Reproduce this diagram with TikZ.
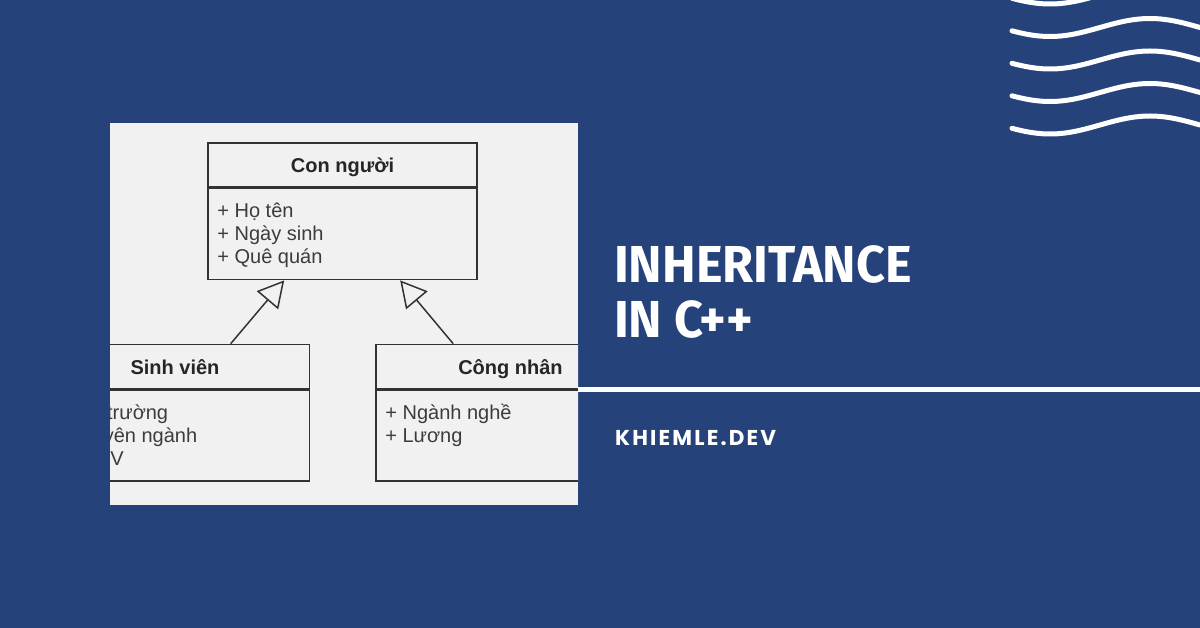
\documentclass[tikz,border=0pt]{standalone}
\usepackage{fontspec}
\setmainfont{Liberation Sans}
\newfontfamily\titlefont[FakeStretch=0.97]{Fira Sans}
\newfontfamily\sitefont[LetterSpace=10]{Poppins}
\usetikzlibrary{arrows.meta,positioning,calc}
\definecolor{navy}{HTML}{25427A}
\definecolor{panelgrey}{HTML}{F1F1F1}
\definecolor{boxline}{HTML}{333333}
\definecolor{attrtext}{HTML}{3C3C3C}

\begin{document}
\begin{tikzpicture}
  [
    x=1pt, y=-1pt,
    headbox/.style = {draw=boxline, line width=1.6pt, fill=panelgrey, minimum width=269pt, minimum height=44pt, inner sep=0pt, text height=16pt, text depth=0pt, font=\fontsize{20}{23}\selectfont\bfseries, text=black!85},
    bodybox/.style = {draw=boxline, line width=1.6pt, fill=panelgrey, minimum width=269pt, minimum height=91pt, inner sep=0pt},
    attr/.style = {anchor=base west, inner sep=0pt, font=\fontsize{20}{23}\selectfont, text=attrtext},
    inherit/.style = {draw=boxline, line width=1.5pt, -{Triangle[length=26pt, width=28pt, fill=panelgrey]}},
    wave/.style = {white, line width=5pt, line cap=round},
    bigtitle/.style = {anchor=base west, inner sep=0pt, text=white, font=\titlefont\fontsize{52}{55}\selectfont\bfseries},
    site/.style = {anchor=base west, inner sep=0pt, text=white, font=\sitefont\fontsize{21.5}{24}\selectfont\bfseries},
  ]
  \clip (0,0) rectangle (1200,628);
  \fill[navy] (0,0) rectangle (1200,628);

  \foreach \yy in {-5,27.5,60,92.5,125}
    \draw[wave] plot[domain=1012:1200, samples=80] (\x, {\yy+9*cos(1.8*(\x-1050))});

  \fill[panelgrey] (110,123) rectangle (578,505);
  \begin{scope}
    \clip (110,123) rectangle (578,505);
    \node[headbox] (cnHead) at (342.5,165) {Con người};
    \node[bodybox, below=0pt of cnHead] (cnBody) {};
    \node[headbox] (svHead) at (175,366.5) {Sinh viên};
    \node[bodybox, below=0pt of svHead] (svBody) {};
    \node[headbox] (wkHead) at (510.5,366.5) {Công nhân};
    \node[bodybox, below=0pt of wkHead] (wkBody) {};

    \foreach \t [count=\i] in {+ Họ tên, + Ngày sinh, + Quê quán}
      \node[attr] (cnAttr\i) at ($(cnBody.north west)+(10,{7+23*\i})$) {\t};
    \node[attr] (svAttr1) at ($(svBody.north west)+(10,30)$) {\hphantom{+ Tên }trường};
    \node[attr] (svAttr2) at ($(svBody.north west)+(10,53)$) {\hphantom{+ Chu}yên ngành};
    \node[attr] (svAttr3) at ($(svBody.north west)+(10,76)$) {\hphantom{+ MSS}V};
    \foreach \t [count=\i] in {+ Ngành nghề, + Lương}
      \node[attr] (wkAttr\i) at ($(wkBody.north west)+(10,{7+23*\i})$) {\t};

    \draw[inherit] ([xshift=191pt]svHead.north west) -- ([xshift=77pt]cnBody.south west);
    \draw[inherit] ([xshift=78pt]wkHead.north west) -- ([xshift=193pt]cnBody.south west);
  \end{scope}

  \draw[white, line width=5pt] (578,390) -- (1200,390);
  \node[bigtitle] (titleA) at (614,283) {INHERITANCE};
  \node[bigtitle] (titleB) at (614,338) {IN C++};
  \node[site] (site) at (615,445) {KHIEMLE.DEV};
\end{tikzpicture}
\end{document}
